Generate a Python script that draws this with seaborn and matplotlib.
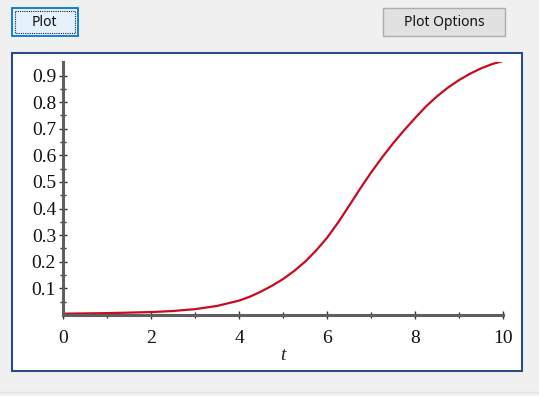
import numpy as np
import matplotlib
matplotlib.use('Agg')
import matplotlib.pyplot as plt
from matplotlib.patches import Rectangle
import seaborn as sns

# values
t = [0, 0.5, 1, 1.5, 2, 2.5, 3, 3.5, 4, 4.25, 4.5, 4.75, 5, 5.25, 5.5, 5.75, 6, 6.25,
     6.5, 6.75, 7, 7.25, 7.5, 7.75, 8, 8.25, 8.5, 8.75, 9, 9.25, 9.5, 9.75, 10]
y = [0.005, 0.006, 0.007, 0.009, 0.011, 0.015, 0.022, 0.034, 0.054, 0.069, 0.088,
     0.110, 0.135, 0.165, 0.200, 0.242, 0.290, 0.347, 0.410, 0.474, 0.535, 0.592,
     0.645, 0.694, 0.740, 0.784, 0.822, 0.855, 0.883, 0.907, 0.927, 0.943, 0.955]
y_ticks = [0.1, 0.2, 0.3, 0.4, 0.5, 0.6, 0.7, 0.8, 0.9]
x_ticks = [0, 2, 4, 6, 8, 10]
x_label = 't'
buttons = ['Plot', 'Plot Options']

sns.set_style('white')
plt.rcParams['font.family'] = ['Liberation Serif', 'DejaVu Serif']

W, H = 539, 396
fig = plt.figure(figsize=(W / 100, H / 100), dpi=100)
fig.patch.set_facecolor('#f0f0f0')

# window chrome drawn in pixel coordinates
bg = fig.add_axes([0, 0, 1, 1])
bg.set_xlim(0, W)
bg.set_ylim(H, 0)
bg.axis('off')
bg.add_patch(Rectangle((11.5, 53), 510, 318, facecolor='white', edgecolor='#2b4a86', lw=1.5))
bg.add_patch(Rectangle((12, 7.5), 65.5, 28.5, facecolor='#e5f1fb', edgecolor='#0078d7', lw=1.3))
bg.add_patch(Rectangle((15, 10.5), 59.5, 22.5, facecolor='none', edgecolor='#222222', lw=0.8, ls=(0, (1, 1))))
bg.add_patch(Rectangle((383, 7.5), 122, 28.5, facecolor='#e1e1e1', edgecolor='#adadad', lw=1))
bg.text(44.7, 22, buttons[0], ha='center', va='center', fontsize=10, color='#111111',
        family=['Noto Sans', 'DejaVu Sans'])
bg.text(444, 22, buttons[1], ha='center', va='center', fontsize=10, color='#111111',
        family=['Noto Sans', 'DejaVu Sans'])
bg.axhline(391.5, color='#e2e2e2', lw=1)

# plot area
ax = fig.add_axes([63 / W, 1 - 315 / H, 440 / W, 253 / H])
ax.patch.set_alpha(0)
sns.lineplot(x=t, y=y, ax=ax, color='#cc0a1e', lw=1.6)
ax.set_xlim(0, 10)
ax.set_ylim(0, 0.951)
ax.set_xticks(x_ticks)
ax.set_xticks(np.arange(1, 10, 2), minor=True)
ax.set_yticks(y_ticks)
ax.set_yticklabels([f'{v:.1f}' for v in y_ticks])
ax.set_yticks(np.arange(0.05, 0.95, 0.1), minor=True)
for side in ['top', 'right']:
    ax.spines[side].set_visible(False)
for side in ['left', 'bottom']:
    ax.spines[side].set_color('#5f5f5f')
    ax.spines[side].set_linewidth(2.2)
ax.tick_params(which='both', bottom=True, left=True, direction='inout', color='#333333', width=1)
ax.tick_params(which='major', length=6, labelsize=14, labelcolor='#111111')
ax.tick_params(which='minor', length=4)
ax.tick_params(axis='y', which='major', pad=2)
ax.tick_params(axis='x', which='major', pad=8)
ax.set_xlabel(x_label, style='italic', fontsize=14, labelpad=0)
ax.set_ylabel('')

fig.savefig('out.png', dpi=100, facecolor=fig.get_facecolor())
